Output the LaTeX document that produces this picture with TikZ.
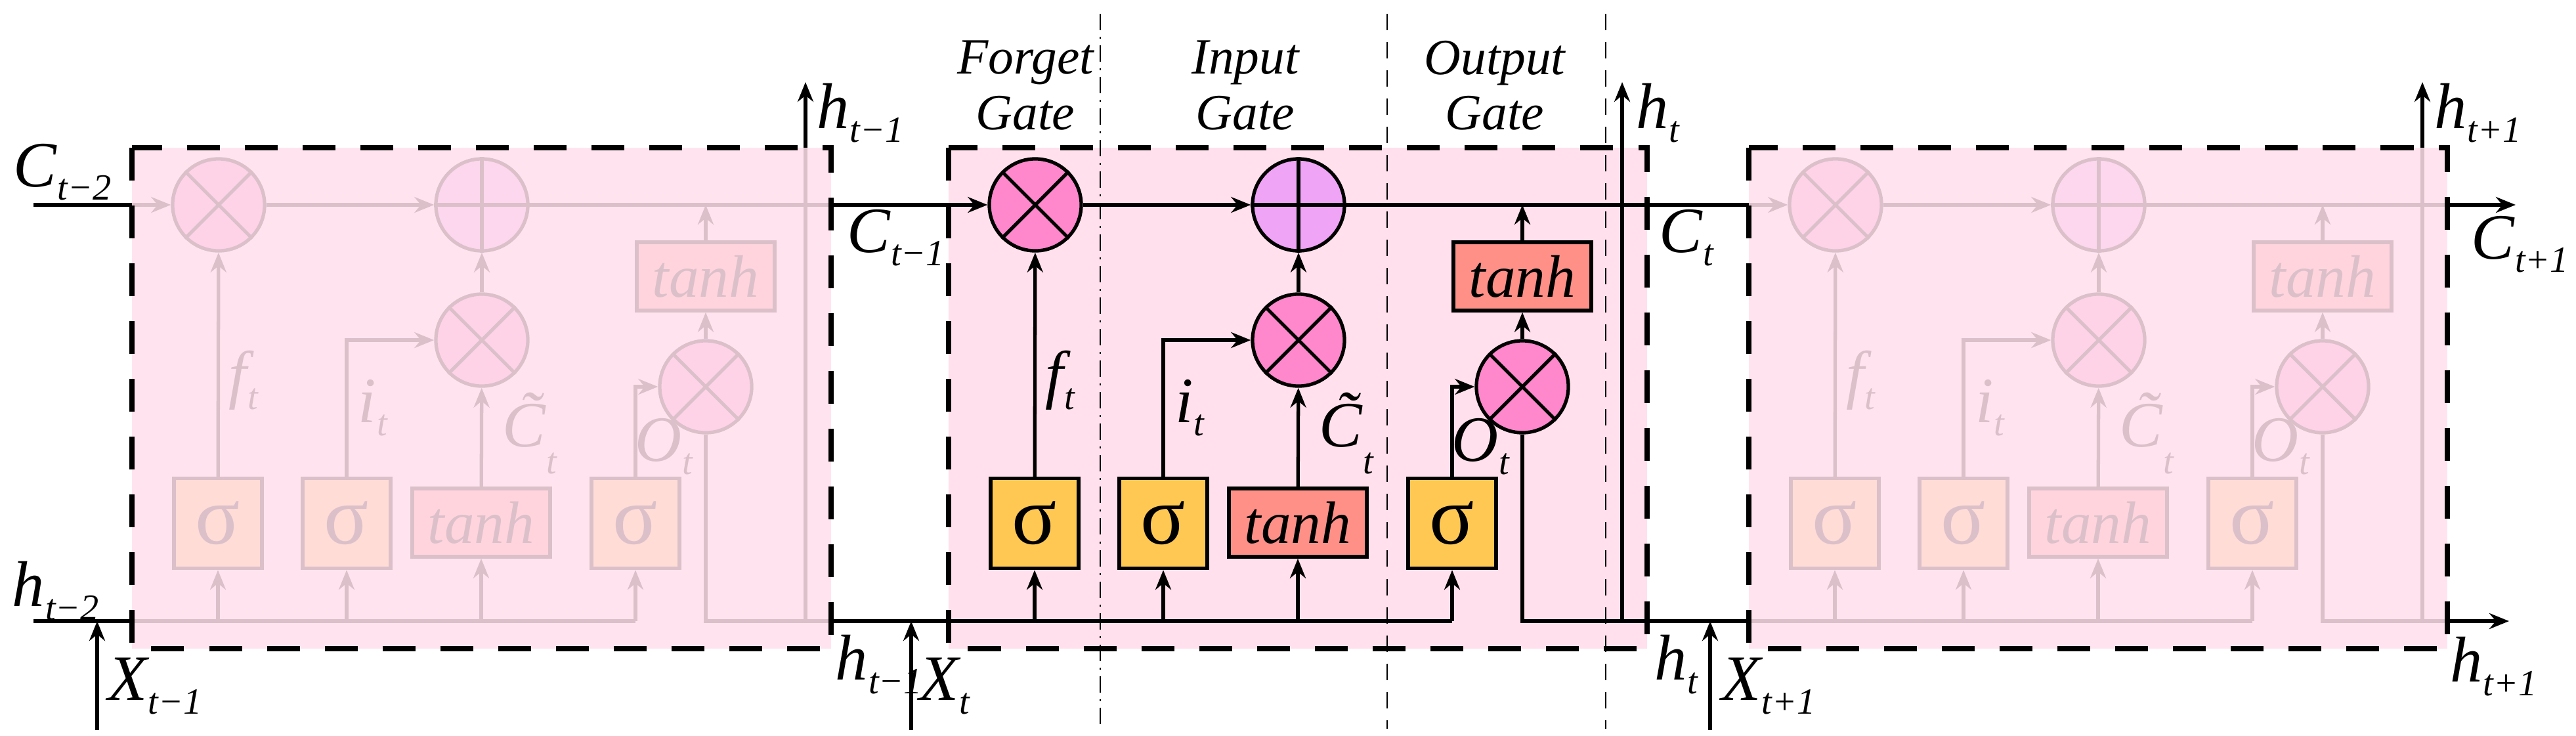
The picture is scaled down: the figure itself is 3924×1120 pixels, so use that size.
\documentclass[tikz,border=0pt]{standalone}
\usepackage{fontspec}
\setmainfont{Liberation Serif}
\usetikzlibrary{arrows.meta}
\definecolor{cellpink}{HTML}{FFE0EC}
\definecolor{mulpink}{HTML}{FF88CC}
\definecolor{pluspink}{HTML}{EFA4F6}
\definecolor{sigyel}{HTML}{FFC853}
\definecolor{tanhred}{HTML}{FF9088}
\newcommand\lb[2]{{\fontsize{28}{28}\selectfont\itshape #1\kern0.3pt\raisebox{-0.45ex}{\fontsize{16}{16}\selectfont #2}}}
\newcommand\lbC{{\fontsize{28}{28}\selectfont\itshape \~{C}\kern0.5pt\raisebox{-0.9ex}{\fontsize{16}{16}\selectfont t}}}
\tikzset{
  ln/.style={line width=1.5pt},
  arr/.style={ln,-{Stealth[length=0.3cm,width=0.24cm]}},
  op/.style={circle,draw,line width=1.5pt,minimum size=1.4cm,inner sep=0pt},
  mul/.style={op,fill=mulpink},
  plus/.style={op,fill=pluspink},
  sig/.style={draw,line width=1.5pt,fill=sigyel,minimum width=1.34cm,minimum height=1.37cm,inner sep=0pt,font=\fontsize{36}{36}\selectfont},
  th/.style={draw,line width=1.5pt,fill=tanhred,minimum width=2.1cm,minimum height=1.04cm,inner sep=0pt,font=\fontsize{26}{26}\selectfont\itshape},
  cbox/.style={dash pattern=on 0.5cm off 0.38cm,line width=2.4pt},
  div/.style={line width=0.8pt,dash pattern=on 0.25cm off 0.18cm},
  gl/.style={font=\fontsize{22}{24}\selectfont\itshape,align=center},
}
\newcommand\lstmcell[2]{%
\begin{scope}[shift={(#1,0)},name prefix=#2-]
  \coordinate (in) at (0,312); \coordinate (out) at (1064,312);
  \coordinate (hin) at (0,946); \coordinate (hout) at (1064,946);
  \node[mul] (f) at (132,312) {};
  \node[plus] (p) at (533,312) {};
  \node[mul] (m) at (533,518) {};
  \node[mul] (o) at (874,589) {};
  \node[th] (t1) at (874,421) {tanh};
  \node[sig] (s1) at (131,797) {σ};
  \node[sig] (s2) at (327,797) {σ};
  \node[th] (t2) at (532,796) {tanh};
  \node[sig] (s3) at (767,797) {σ};
  \draw[ln] (f.45)--(f.225) (f.135)--(f.315);
  \draw[ln] (m.45)--(m.225) (m.135)--(m.315);
  \draw[ln] (o.45)--(o.225) (o.135)--(o.315);
  \draw[ln] (p.north)--(p.south) (p.west)--(p.east);
  \coordinate (j) at (874,312);
  \coordinate (hs1) at (131,946); \coordinate (hs2) at (327,946);
  \coordinate (hs4) at (532,946); \coordinate (hs3) at (767,946);
  \coordinate (hv) at (1026,946); \coordinate (hvtop) at (1026,225);
  \draw[arr] (in)--(f);
  \draw[arr] (f)--(p);
  \draw[ln] (p)--(out);
  \draw[arr] (s1)--(f);
  \draw[arr] (s2.north)|-(m);
  \draw[arr] (t2)--(m);
  \draw[arr] (m)--(p);
  \draw[arr] (s3.north)|-(o);
  \draw[arr] (o)--(t1);
  \draw[arr] (t1)--(j);
  \draw[ln] (hin)--(hs3);
  \draw[arr] (hs1)--(s1); \draw[arr] (hs2)--(s2); \draw[arr] (hs4)--(t2); \draw[arr] (hs3)--(s3);
  \draw[ln] (o.south)|-(hout);
  \draw[ln] (hv)--(hvtop);
  \node (lf) at (170,579) {\lb{f}{t}};
  \node (li) at (367,621) {\lb{i}{t}};
  \node (lc) at (606,660) {\lbC};
  \node (lo) at (810,680) {\lb{O}{t}};
\end{scope}}
\begin{document}
\begin{tikzpicture}[x=0.01cm,y=-0.01cm]
\useasboundingbox (0,0) rectangle (3924,1120);
\lstmcell{201}{A}
\fill[cellpink,opacity=0.86] (201,225) rectangle (1266,988);
\lstmcell{2664}{C}
\fill[cellpink,opacity=0.86] (2664,225) rectangle (3728,988);
\fill[cellpink] (1445,225) rectangle (2509,988);
\lstmcell{1445}{B}
\draw[div,dash pattern=on 0.25cm off 0.1cm on 0.03cm off 0.1cm] (1676,21) coordinate (d1a) -- (1676,1110) coordinate (d1b);
\draw[div] (2113,21) coordinate (d2a) -- (2113,1110) coordinate (d2b);
\draw[div] (2446,21) coordinate (d3a) -- (2446,1110) coordinate (d3b);
\draw[cbox] (201,225) rectangle (1266,988);
\draw[cbox] (1445,225) rectangle (2509,988);
\draw[cbox] (2664,225) rectangle (3728,988);
\coordinate (c0) at (51,312); \coordinate (h0) at (51,946);
\draw[ln] (c0)--(A-in); \draw[ln] (h0)--(A-hin);
\draw[ln] (A-out)--(B-in); \draw[ln] (A-hout)--(B-hin);
\draw[ln] (B-out)--(C-in); \draw[ln] (B-hout)--(C-hin);
\coordinate (ce) at (3832,312); \coordinate (he) at (3822,946);
\draw[arr] (C-out)--(ce); \draw[arr] (C-hout)--(he);
\coordinate (av) at (1227,125); \coordinate (bv) at (2471,125); \coordinate (cv) at (3690,125);
\draw[arr] (A-hvtop)--(av); \draw[arr] (B-hvtop)--(bv); \draw[arr] (C-hvtop)--(cv);
\coordinate (x1) at (148,1112); \coordinate (x1e) at (148,946);
\coordinate (x2) at (1388,1112); \coordinate (x2e) at (1388,946);
\coordinate (x3) at (2605,1112); \coordinate (x3e) at (2605,946);
\draw[arr] (x1)--(x1e); \draw[arr] (x2)--(x2e); \draw[arr] (x3)--(x3e);
\node (lC2) at (95,262) {\lb{C}{t−2}};
\node (lh2) at (85,900) {\lb{h}{t−2}};
\node[anchor=west] (lX1) at (152,1045) {\lb{X}{t−1}};
\node[anchor=west] (lht1) at (1232,172) {\lb{h}{t−1}};
\node[anchor=west] (lC1) at (1278,362) {\lb{C}{t−1}};
\node[anchor=west,inner sep=0pt] (lhb1) at (1272,1012) {\lb{h}{t−1}};
\node[anchor=west,inner sep=0pt] (lXt) at (1400,1045) {\lb{X}{t}};
\node[anchor=west] (lht) at (2480,172) {\lb{h}{t}};
\node[anchor=west] (lCt) at (2515,362) {\lb{C}{t}};
\node[anchor=west] (lhbt) at (2508,1012) {\lb{h}{t}};
\node[anchor=west] (lXt1) at (2610,1045) {\lb{X}{t+1}};
\node[anchor=west] (lht2) at (3696,172) {\lb{h}{t+1}};
\node[anchor=west] (lCt2) at (3752,372) {\lb{C}{t+1}};
\node[anchor=west] (lhbt2) at (3720,1015) {\lb{h}{t+1}};
\node[gl] (gf) at (1562,130) {Forget\\Gate};
\node[gl] (gi) at (1897,130) {Input\\Gate};
\node[gl] (go) at (2277,130) {Output\\Gate};
\end{tikzpicture}
\end{document}
